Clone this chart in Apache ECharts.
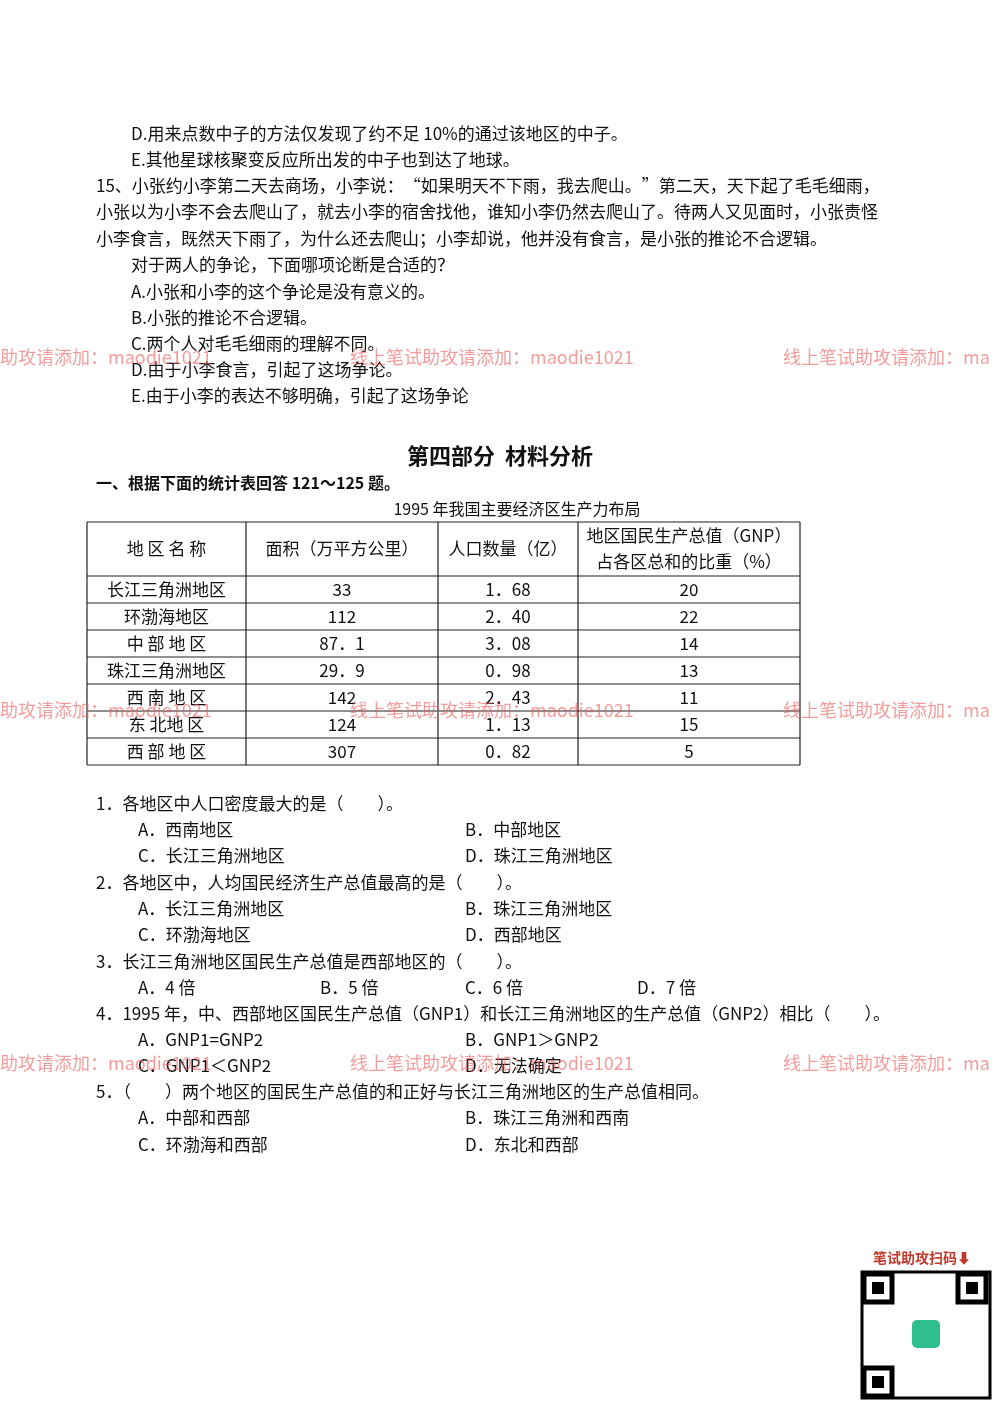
<!DOCTYPE html>
<html><head><meta charset="utf-8">
<script src="https://cdn.jsdelivr.net/npm/echarts@6/dist/echarts.min.js"></script>
<style>html,body{margin:0;padding:0;background:#fff}#c{width:1000px;height:1414px}</style>
</head><body><div id="c"></div>
<script>
var regions=['地 区 名 称','长江三角洲地区','环渤海地区','中 部 地 区','珠江三角洲地区','西 南 地 区','东 北地 区','西 部 地 区'];
var area=['面积（万平方公里）','33','112','87．1','29．9','142','124','307'];
var pop=['人口数量（亿）','1．68','2．40','3．08','0．98','2．43','1．13','0．82'];
var gnp=['地区国民生产总值（GNP）\n占各区总和的比重（%）','20','22','14','13','11','15','5'];
var topLines=[
[131,134,'D.用来点数中子的方法仅发现了约不足 10%的通过该地区的中子。'],
[131,160,'E.其他星球核聚变反应所出发的中子也到达了地球。'],
[96,186,'15、小张约小李第二天去商场，小李说：“如果明天不下雨，我去爬山。”第二天，天下起了毛毛细雨，'],
[96,212,'小张以为小李不会去爬山了，就去小李的宿舍找他，谁知小李仍然去爬山了。待两人又见面时，小张责怪'],
[96,239,'小李食言，既然天下雨了，为什么还去爬山；小李却说，他并没有食言，是小张的推论不合逻辑。'],
[131,265,'对于两人的争论，下面哪项论断是合适的？'],
[131,292,'A.小张和小李的这个争论是没有意义的。'],
[131,318,'B.小张的推论不合逻辑。'],
[131,344,'C.两个人对毛毛细雨的理解不同。'],
[131,370,'D.由于小李食言，引起了这场争论。'],
[131,396,'E.由于小李的表达不够明确，引起了这场争论']];
var qLines=[
[96,804,'1．各地区中人口密度最大的是（　　）。'],
[138,830,'A．西南地区'],[465,830,'B．中部地区'],
[138,856,'C．长江三角洲地区'],[465,856,'D．珠江三角洲地区'],
[96,883,'2．各地区中，人均国民经济生产总值最高的是（　　）。'],
[138,909,'A．长江三角洲地区'],[465,909,'B．珠江三角洲地区'],
[138,935,'C．环渤海地区'],[465,935,'D．西部地区'],
[96,962,'3．长江三角洲地区国民生产总值是西部地区的（　　）。'],
[138,988,'A．4 倍'],[320,988,'B．5 倍'],[465,988,'C．6 倍'],[637,988,'D．7 倍'],
[96,1014,'4．1995 年，中、西部地区国民生产总值（GNP1）和长江三角洲地区的生产总值（GNP2）相比（　　）。'],
[138,1040,'A．GNP1=GNP2'],[465,1040,'B．GNP1＞GNP2'],
[138,1066,'C．GNP1＜GNP2'],[465,1066,'D．无法确定'],
[96,1092,'5．（　　）两个地区的国民生产总值的和正好与长江三角洲地区的生产总值相同。'],
[138,1118,'A．中部和西部'],[465,1118,'B．珠江三角洲和西南'],
[138,1145,'C．环渤海和西部'],[465,1145,'D．东北和西部']];
var wmY=[357,710,1063];
var F='"Noto Sans CJK SC", sans-serif';
var g=[];
function txt(x,y,s,o){o=o||{};g.push({type:'text',x:x,y:y,z:o.z||2,style:{text:s,font:(o.w||'normal')+' '+(o.size||17)+'px '+F,fill:o.fill||'#111',textAlign:o.align||'left',textVerticalAlign:'middle',lineHeight:o.lh||26}});}
function line(x1,y1,x2,y2){g.push({type:'line',shape:{x1:x1,y1:y1,x2:x2,y2:y2},style:{stroke:'#222',lineWidth:1.2}});}
topLines.forEach(function(l){txt(l[0],l[1],l[2]);});
qLines.forEach(function(l){txt(l[0],l[1],l[2]);});
txt(500,456,'第四部分  材料分析',{size:22,w:'bold',align:'center'});
txt(96,483,'一、根据下面的统计表回答 121～125 题。',{w:'bold',size:16});
txt(517,509,'1995 年我国主要经济区生产力布局',{align:'center',size:16});
var cols=[87,246,438,578,800];
var rows=[522,576];for(var i=1;i<regions.length;i++)rows.push(576+27*i);
rows.forEach(function(y){line(cols[0],y,cols[4],y);});
cols.forEach(function(x){line(x,rows[0],x,rows[rows.length-1]);});
[regions,area,pop,gnp].forEach(function(col,c){
  col.forEach(function(s,r){
    var cx=(cols[c]+cols[c+1])/2,cy=(rows[r]+rows[r+1])/2;
    txt(cx,cy,s,{align:'center'});
  });
});
wmY.forEach(function(y){
  var st={fill:'rgba(235,90,90,0.6)',size:18,z:5};
  txt(0,y,'助攻请添加：maodie1021',st);
  txt(350,y,'线上笔试助攻请添加：maodie1021',st);
  txt(783,y,'线上笔试助攻请添加：ma',st);
});
txt(873,1258,'笔试助攻扫码⬇',{w:'bold',size:14,fill:'#c0392b'});
g.push({type:'rect',shape:{x:862,y:1272,width:128,height:126},style:{fill:'#fff',stroke:'#000',lineWidth:3}});
[[864,1274],[958,1274],[864,1368]].forEach(function(p){
  g.push({type:'rect',shape:{x:p[0],y:p[1],width:28,height:28},style:{fill:'#fff',stroke:'#000',lineWidth:5}});
  g.push({type:'rect',shape:{x:p[0]+8,y:p[1]+8,width:12,height:12},style:{fill:'#000'}});
});
g.push({type:'rect',shape:{x:912,y:1320,width:28,height:28,r:5},style:{fill:'#2fbf8f'}});
var chart=echarts.init(document.getElementById('c'));
chart.setOption({animation:false,graphic:g});
</script></body></html>
